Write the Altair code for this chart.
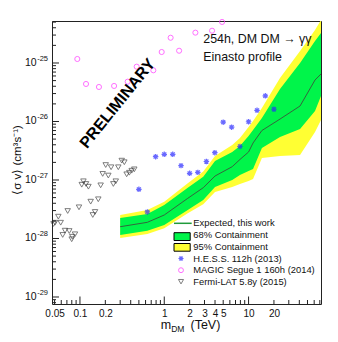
import altair as alt
import pandas as pd

# ---------------- data (DM mass in TeV, <sigma v> in cm^3 s^-1) ----------------
band_mass = [0.3, 0.63, 1.0, 1.9, 2.9, 4.0, 6.4, 7.9, 10.0, 11.3, 14.4, 23.6, 40.8, 61.4, 72.3]
band95_hi = [2.52e-28, 3.07e-28, 4.26e-28, 8.79e-28, 1.39e-27, 2.57e-27, 3.96e-27, 5.22e-27,
             8.05e-27, 1.02e-26, 1.70e-26, 5.55e-26, 1.60e-25, 3.66e-25, 5.43e-25]
band68_hi = [2.24e-28, 2.62e-28, 3.74e-28, 7.38e-28, 1.14e-27, 2.11e-27, 3.01e-27, 3.81e-27,
             5.65e-27, 7.16e-27, 1.15e-26, 3.60e-26, 1.00e-25, 2.38e-25, 3.26e-25]
expected = [1.59e-28, 1.89e-28, 2.52e-28, 4.86e-28, 7.38e-28, 1.17e-27, 1.69e-27, 2.24e-27,
            3.01e-27, 4.29e-27, 7.01e-27, 1.10e-26, 1.84e-26, 5.12e-26, 6.49e-26]
band68_lo = [1.15e-28, 1.36e-28, 1.70e-28, 3.07e-28, 4.55e-28, 7.59e-28, 1.00e-27, 1.22e-27,
             1.43e-27, 1.54e-27, 3.52e-27, 5.43e-27, 7.45e-27, 1.51e-26, 2.73e-26]
band95_lo = [1.02e-28, 1.19e-28, 1.49e-28, 2.70e-28, 3.85e-28, 6.24e-28, 7.59e-28, 8.55e-28,
             9.61e-28, 1.04e-27, 2.38e-27, 2.57e-27, 2.67e-27, 6.62e-27, 1.06e-26]

hess_mass = [0.5, 0.63, 0.79, 1.0, 1.26, 1.58, 2.0, 2.5, 3.16, 3.98, 5.0, 6.3, 7.9, 10.0, 12.6, 15.8, 20.0]
hess_sv = [6.93e-28, 2.84e-28, 2.50e-27, 2.75e-27, 2.75e-27, 1.76e-27, 1.30e-27, 1.35e-27, 2.07e-27,
           2.93e-27, 9.73e-27, 8.00e-27, 3.74e-27, 9.90e-27, 1.55e-26, 2.75e-26, 1.62e-26]

magic_mass = [0.093, 0.118, 0.168, 0.254, 0.368, 0.471, 0.742, 0.932, 1.19, 1.50, 2.34, 3.69, 4.85]
magic_sv = [1.17e-25, 4.38e-26, 3.89e-26, 4.05e-26, 4.79e-26, 8.65e-26, 7.50e-26, 1.54e-25,
            2.70e-25, 1.62e-25, 3.30e-25, 3.56e-25, 5.03e-25]

fermi_mass = [0.0486, 0.0506, 0.0554, 0.0591, 0.0624, 0.0665, 0.0715, 0.0747, 0.0798, 0.0811,
              0.0873, 0.0974, 0.105, 0.110, 0.118, 0.126, 0.134, 0.142, 0.151, 0.165, 0.176,
              0.186, 0.202, 0.217, 0.234, 0.249, 0.266, 0.285, 0.313, 0.336, 0.358, 0.385,
              0.411, 0.441]
fermi_sv = [1.77e-28, 1.86e-28, 2.36e-28, 1.86e-28, 1.15e-28, 1.36e-28, 2.95e-28, 1.34e-28,
            9.7e-29, 1.07e-28, 1.18e-28, 3.41e-28, 8.3e-28, 9.5e-28, 8.55e-28, 7.68e-28,
            4.26e-28, 2.52e-28, 2.84e-28, 4.68e-28, 8.1e-28, 1.27e-27, 1.80e-27, 1.19e-27,
            1.65e-27, 8.55e-28, 9.5e-28, 1.65e-27, 2.14e-27, 2.01e-27, 1.25e-27, 1.33e-27,
            1.44e-27, 1.52e-27]

x_label_values = [0.05, 0.1, 0.2, 1, 2, 3, 4, 5, 10, 20]
x_major_ticks = [0.1, 1, 10]
x_minor_ticks = [0.05, 0.06, 0.07, 0.08, 0.09, 0.2, 0.3, 0.4, 0.5, 0.6, 0.7, 0.8, 0.9,
                 2, 3, 4, 5, 6, 7, 8, 9, 20, 30, 40, 50, 60, 70]
y_exponents = [-29, -28, -27, -26, -25]
y_minor_ticks = [8e-30, 9e-30] + [k * 10.0 ** e for e in y_exponents for k in range(2, 10)
                                  if k * 10.0 ** e < 5.2e-25]

# ---------------- styling ----------------
W, H = 269, 283
XDOM = [0.0466, 72.3]
YDOM = [7.59e-30, 5.22e-25]
YELLOW = "#ffff33"
GREEN = "#00f54a"
LINE = "#33663d"
FONT = "Liberation Sans"
ASTERISK = "M-1,0L1,0M0,-1L0,1M-0.72,-0.72L0.72,0.72M-0.72,0.72L0.72,-0.72"

X_AXIS = alt.Axis(values=x_label_values, format="~g", ticks=False, domain=False, grid=False,
                  labelFontSize=10, labelPadding=4, labelColor="#111", labelFont=FONT,
                  labelOverlap=False, labelFlush=False, title=None)


def xs(field):
    return alt.X(field, type="quantitative", scale=alt.Scale(type="log", domain=XDOM, nice=False),
                 axis=X_AXIS)


def ys(field):
    return alt.Y(field, type="quantitative", scale=alt.Scale(type="log", domain=YDOM, nice=False),
                 axis=None)


band = pd.DataFrame({"m": band_mass, "y95hi": band95_hi, "y68hi": band68_hi, "exp": expected,
                     "y68lo": band68_lo, "y95lo": band95_lo})
hess = pd.DataFrame({"m": hess_mass, "sv": hess_sv})
magic = pd.DataFrame({"m": magic_mass, "sv": magic_sv})
fermi = pd.DataFrame({"m": fermi_mass, "sv": fermi_sv})

yellow = alt.Chart(band).mark_area(color=YELLOW, clip=True).encode(
    x=xs("m"), y=ys("y95lo"), y2="y95hi")
green = alt.Chart(band).mark_area(color=GREEN, clip=True).encode(
    x=xs("m"), y=ys("y68lo"), y2="y68hi")
expline = alt.Chart(band).mark_line(color=LINE, strokeWidth=1, clip=True).encode(
    x=xs("m"), y=ys("exp"))

fermi_pts = alt.Chart(fermi).mark_point(shape="triangle-down", filled=False, color="#333",
                                        size=30, strokeWidth=0.9).encode(x=xs("m"), y=ys("sv"))
magic_pts = alt.Chart(magic).mark_point(shape="circle", filled=False, color="#ff33ff",
                                        size=26, strokeWidth=1).encode(x=xs("m"), y=ys("sv"))
hess_pts = alt.Chart(hess).mark_point(shape=ASTERISK, filled=False, color="#2a2aff",
                                      size=30, strokeWidth=1.2).encode(x=xs("m"), y=ys("sv"))

# inward ticks (ROOT style)
xt_major = alt.Chart(pd.DataFrame({"v": x_major_ticks})).mark_rule(color="#222").encode(
    x=xs("v"), y=alt.value(H), y2=alt.value(H - 7.5))
xt_minor = alt.Chart(pd.DataFrame({"v": x_minor_ticks})).mark_rule(color="#222").encode(
    x=xs("v"), y=alt.value(H), y2=alt.value(H - 4))
yt_major = alt.Chart(pd.DataFrame({"v": [10.0 ** e for e in y_exponents]})).mark_rule(color="#222").encode(
    y=ys("v"), x=alt.value(0), x2=alt.value(7))
yt_minor = alt.Chart(pd.DataFrame({"v": y_minor_ticks})).mark_rule(color="#222").encode(
    y=ys("v"), x=alt.value(0), x2=alt.value(4))

ylab = pd.DataFrame({"v": [10.0 ** e for e in y_exponents], "base": ["10"] * len(y_exponents),
                     "exp": [str(e) for e in y_exponents]})
ylab_base = alt.Chart(ylab).mark_text(align="right", baseline="middle", fontSize=10.5,
                                      font=FONT, color="#111").encode(
    y=ys("v"), x=alt.value(-15.3), text="base")
ylab_exp = alt.Chart(ylab).mark_text(align="left", baseline="middle", fontSize=7.5, dy=-4,
                                     font=FONT, color="#111").encode(
    y=ys("v"), x=alt.value(-14.8), text="exp")

one = pd.DataFrame({"k": [0]})


def note(text, x, y, **kw):
    kw.setdefault("font", FONT)
    kw.setdefault("color", "#111")
    return alt.Chart(one).mark_text(text=text, **kw).encode(x=alt.value(x), y=alt.value(y))


texts = [
    note("PRELIMINARY", 65.5, 82.5, fontSize=16, fontWeight="bold", angle=309,
         align="center", baseline="middle", color="black"),
    note("254h, DM DM \u2192 \u03b3\u03b3", 151.3, 22.3, fontSize=12.4, align="left",
         baseline="alphabetic"),
    note("Einasto profile", 151.3, 39.9, fontSize=12.4, align="left", baseline="alphabetic"),
    # axis titles
    note("\u27e8\u03c3 v\u27e9 (cm\u00b3s\u207b\u00b9)", -34.5, 139, fontSize=11.5, angle=270,
         align="center", baseline="middle"),
    note("m", 108.7, 308, fontSize=12.5, align="left", baseline="alphabetic"),
    note("DM", 119.2, 310.8, fontSize=8.5, align="left", baseline="alphabetic"),
    note("(TeV)", 138.5, 308.3, fontSize=12.5, align="left", baseline="alphabetic"),
]

# legend (drawn by hand inside the frame)
LX0, LX1, LXT = 122, 139.7, 141.3
legend = [
    alt.Chart(one).mark_rule(color="#1f9a3a", strokeWidth=1.5).encode(
        x=alt.value(LX0), x2=alt.value(LX1), y=alt.value(202.3)),
    alt.Chart(one).mark_rect(fill=GREEN, stroke="black", strokeWidth=1).encode(
        x=alt.value(LX0), x2=alt.value(LX1 - 1.5), y=alt.value(211.7), y2=alt.value(219.5)),
    alt.Chart(one).mark_rect(fill=YELLOW, stroke="black", strokeWidth=1).encode(
        x=alt.value(LX0), x2=alt.value(LX1 - 1.5), y=alt.value(222.5), y2=alt.value(230.2)),
    alt.Chart(one).mark_point(shape=ASTERISK, filled=False, color="#2a2aff", size=26,
                              strokeWidth=1.1).encode(x=alt.value(129), y=alt.value(237.5)),
    alt.Chart(one).mark_point(shape="circle", filled=False, color="#ff33ff", size=24,
                              strokeWidth=1).encode(x=alt.value(129), y=alt.value(249.2)),
    alt.Chart(one).mark_point(shape="triangle-down", filled=False, color="#333", size=26,
                              strokeWidth=0.9).encode(x=alt.value(129), y=alt.value(260.7)),
    note("Expected, this work", LXT, 202.3, fontSize=9.4, align="left", baseline="middle"),
    note("68% Containment", LXT, 214.0, fontSize=9.4, align="left", baseline="middle"),
    note("95% Containment", LXT, 225.8, fontSize=9.4, align="left", baseline="middle"),
    note("H.E.S.S. 112h (2013)", LXT, 237.5, fontSize=9.4, align="left", baseline="middle"),
    note("MAGIC Segue 1 160h (2014)", LXT, 249.2, fontSize=9.4, align="left", baseline="middle"),
    note("Fermi-LAT 5.8y (2015)", LXT, 260.9, fontSize=9.4, align="left", baseline="middle"),
]

chart = alt.layer(
    yellow, green, expline, fermi_pts, magic_pts, hess_pts,
    xt_major, xt_minor, yt_major, yt_minor, ylab_base, ylab_exp,
    *texts, *legend
).properties(
    width=W, height=H,
    autosize=alt.AutoSizeParams(type="none"),
    padding={"left": 44, "top": 13, "right": 9, "bottom": 34},
    background="white",
).configure_view(stroke="#222", strokeWidth=1)

chart.save("out.html", embed_options={"renderer": "svg", "actions": False})
